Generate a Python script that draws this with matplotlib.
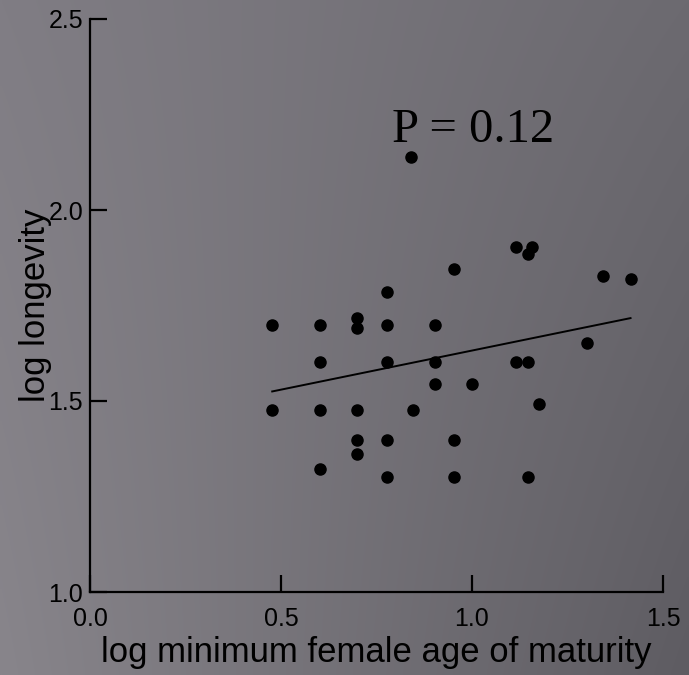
import numpy as np
import matplotlib
matplotlib.use("Agg")
import matplotlib.pyplot as plt

# data (log values)
maturity = [0.477, 0.602, 0.699, 0.699, 0.778, 0.778, 0.903, 0.954, 1.114, 1.158,
            1.146, 1.342, 1.415, 1.301, 0.602, 0.778, 0.903, 1.114, 1.146, 0.903,
            1.000, 1.176, 0.477, 0.602, 0.699, 0.845, 0.699, 0.778, 0.954, 0.699,
            0.602, 0.778, 0.954, 1.146, 0.840]
longevity = [1.699, 1.699, 1.716, 1.690, 1.785, 1.699, 1.699, 1.845, 1.903, 1.903,
             1.886, 1.826, 1.820, 1.653, 1.602, 1.602, 1.602, 1.602, 1.602, 1.544,
             1.544, 1.491, 1.477, 1.477, 1.477, 1.477, 1.398, 1.398, 1.398, 1.362,
             1.322, 1.301, 1.301, 1.301, 2.140]

# regression line end points
fit_x = [0.477, 1.415]
fit_y = [1.525, 1.717]

p_text = "P = 0.12"
x_ticks = [0.0, 0.5, 1.0, 1.5]
y_ticks = [1.0, 1.5, 2.0, 2.5]

fig = plt.figure(figsize=(6.89, 6.75), dpi=100)

# gray gradient backdrop
bg = fig.add_axes([0, 0, 1, 1], zorder=-10)
tl, tr = np.array([128, 125, 132]), np.array([108, 106, 112])
bl, br = np.array([136, 133, 139]), np.array([94, 92, 98])
u = np.linspace(0, 1, 200)[None, :, None]
v = np.linspace(0, 1, 200)[:, None, None]
img = (tl * (1 - u) * (1 - v) + tr * u * (1 - v) + bl * (1 - u) * v + br * u * v) / 255
bg.imshow(img, aspect='auto', extent=[0, 1, 0, 1], interpolation='bilinear')
bg.axis('off')

ax = fig.add_axes([90 / 689, 83 / 675, 573 / 689, 573 / 675])
ax.patch.set_alpha(0)

ax.plot(maturity, longevity, 'o', color='black', ms=8, clip_on=False)
ax.plot(fit_x, fit_y, color='black', lw=1.4)

ax.text(1.003, 2.179, p_text, ha='center', va='baseline',
        fontsize=35, family='Liberation Serif', color='black')

ax.set_xlim(0, 1.5)
ax.set_ylim(1.0, 2.5)
ax.set_xticks(x_ticks)
ax.set_yticks(y_ticks)
ax.set_xticklabels(['%.1f' % t for t in x_ticks])
ax.set_yticklabels(['%.1f' % t for t in y_ticks])

for s in ['top', 'right']:
    ax.spines[s].set_visible(False)
for s in ['left', 'bottom']:
    ax.spines[s].set_linewidth(1.6)
    ax.spines[s].set_color('black')

ax.tick_params(axis='both', direction='in', length=12, width=1.6, colors='black',
               labelsize=18)
ax.tick_params(axis='x', pad=11)
ax.tick_params(axis='y', pad=5)
for lab in ax.get_xticklabels() + ax.get_yticklabels():
    lab.set_family('Liberation Sans')

ax.set_xlabel('log minimum female age of maturity', fontsize=25, family='Liberation Sans')
ax.set_ylabel('log longevity', fontsize=25, family='Liberation Sans')
ax.xaxis.set_label_coords(0.5, -0.077)
ax.yaxis.set_label_coords(-0.066, 0.5)

fig.savefig('out.png', dpi=100)
